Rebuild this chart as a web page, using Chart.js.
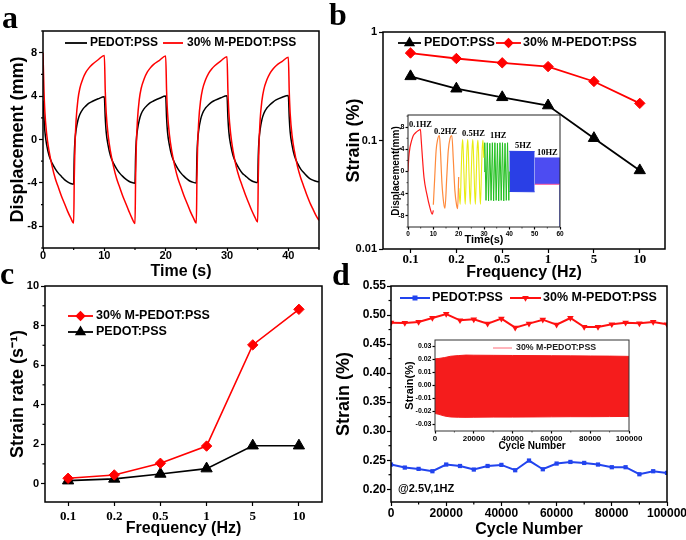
<!DOCTYPE html>
<html><head><meta charset="utf-8">
<script src="https://cdn.jsdelivr.net/npm/chart.js@4/dist/chart.umd.min.js"></script>
<style>
html,body{margin:0;padding:0;background:#fff;}
body{width:686px;height:540px;position:relative;overflow:hidden;}
canvas{position:absolute;}
.lbl{position:absolute;font-family:'Liberation Serif','Times New Roman',serif;font-weight:bold;font-size:32px;line-height:32px;color:#000;}
</style></head><body>
<canvas id="ca"></canvas><canvas id="cb"></canvas><canvas id="cc"></canvas><canvas id="cd"></canvas>
<canvas id="cbi"></canvas><canvas id="cdi"></canvas>
<div class="lbl" style="left:2px;top:1px">a</div>
<div class="lbl" style="left:329px;top:-2px">b</div>
<div class="lbl" style="left:0px;top:257px">c</div>
<div class="lbl" style="left:332px;top:258px">d</div>
<script>
// ---------- Panel a : displacement vs time ----------
const timeA = [
0,0.15,0.3,0.6,1,1.5,2,2.5,3,3.5,4,4.5,
5,5.1,5.2,5.4,5.7,6,6.5,7,7.5,8,9,
10,10.15,10.3,10.6,11,11.5,12,12.5,13,13.5,14,14.5,
15,15.1,15.2,15.4,15.7,16,16.5,17,17.5,18,19,
20,20.15,20.3,20.6,21,21.5,22,22.5,23,23.5,24,24.5,
25,25.1,25.2,25.4,25.7,26,26.5,27,27.5,28,29,
30,30.15,30.3,30.6,31,31.5,32,32.5,33,33.5,34,34.5,
35,35.1,35.2,35.4,35.7,36,36.5,37,37.5,38,39,
40,40.15,40.3,40.6,41,41.5,42,42.5,43,43.5,44,44.5,45];
const dispM = [
8.0,4.7,2.6,0.5,-1.1,-2.5,-3.6,-4.4,-5.2,-5.9,-6.6,-7.2,
-7.7,-3.5,-0.8,1.8,3.7,4.7,5.6,6.2,6.6,6.9,7.35,
7.75,4.5,2.5,0.5,-1.1,-2.5,-3.6,-4.4,-5.2,-5.9,-6.6,-7.25,
-7.75,-3.5,-0.8,1.8,3.7,4.7,5.6,6.2,6.6,6.9,7.3,
7.7,4.5,2.5,0.5,-1.1,-2.5,-3.6,-4.4,-5.2,-5.9,-6.6,-7.2,
-7.7,-3.5,-0.8,1.8,3.6,4.6,5.5,6.1,6.5,6.8,7.25,
7.63,4.5,2.5,0.5,-1.1,-2.5,-3.5,-4.3,-5.1,-5.8,-6.5,-7.1,
-7.6,-3.5,-0.8,1.8,3.6,4.6,5.5,6.1,6.5,6.8,7.2,
7.57,4.4,2.4,0.4,-1.1,-2.5,-3.5,-4.3,-5.1,-5.8,-6.4,-7.0,-7.45];
const dispP = [
3.6,2.2,0.8,-0.5,-1.5,-2.2,-2.7,-3.1,-3.4,-3.7,-3.9,-4.05,
-4.12,-1.5,-0.2,0.9,1.8,2.3,2.8,3.1,3.35,3.5,3.75,
3.94,2.0,0.7,-0.5,-1.5,-2.2,-2.7,-3.1,-3.4,-3.65,-3.85,-3.97,
-4.03,-1.5,-0.2,0.9,1.8,2.35,2.85,3.15,3.4,3.55,3.8,
4.0,2.0,0.7,-0.5,-1.5,-2.2,-2.7,-3.1,-3.4,-3.65,-3.85,-3.95,
-4.0,-1.5,-0.2,0.9,1.85,2.4,2.9,3.2,3.45,3.6,3.85,
4.03,2.0,0.7,-0.5,-1.5,-2.2,-2.7,-3.1,-3.35,-3.6,-3.8,-3.92,
-3.97,-1.5,-0.2,0.9,1.85,2.4,2.9,3.2,3.45,3.65,3.9,
4.06,2.0,0.7,-0.5,-1.5,-2.2,-2.7,-3.05,-3.35,-3.6,-3.75,-3.85,-3.9];
const ticksAx = [0,10,20,30,40], minorAx = [5,15,25,35,45];
const ticksAy = [-8,-4,0,4,8], minorAy = [-10,-6,-2,2,6,10];

// ---------- Panel b : strain vs frequency ----------
const freqLabels = ['0.1','0.2','0.5','1','5','10'];
const freqIdx = [0,1,2,3,4,5];
const strainP = [0.39,0.30,0.25,0.21,0.105,0.053];
const strainM = [0.64,0.57,0.52,0.48,0.35,0.22];
const ticksBy = [0.01,0.1,1], labelsBy = ['0.01','0.1','1'];

// inset of b : displacement at several frequencies
const t01 = [0,0.3,0.8,1.5,2.1,3,4.1,4.9,5.2,5.5,6.3,7.4,8.7,9.6,10];
const d01 = [0,2.5,4.4,5.7,6.5,7.0,7.4,7.6,5.8,3.8,-1.0,-4.0,-6.6,-7.7,-7.0];
const t02 = [10,10.5,11.1,11.7,12.4,12.8,13.4,14.1,14.6,15.3,15.9,16.6,17.3,17.9,18.5,19.2,19.6,20];
const d02 = [-6.0,-1.5,3.8,5.8,6.5,3.8,-2.1,-5.7,-6.6,-1.0,3.8,6.0,6.5,2.0,-3.4,-6.1,-6.7,-1.0];
const t05 = [20.1,20.6,21.0,21.3,21.6,21.9,22.3,22.6,23.0,23.3,23.6,23.9,24.3,24.6,25.0,25.3,25.6,25.9,26.3,26.6,27.0,27.3,27.6,27.9,28.3,28.6,29.0,29.3,29.6,29.9];
const d05 = [-3,-5.9,0,4.2,5.75,2.5,-3.5,-5.9,0,4.2,5.75,2.5,-3.5,-5.9,0,4.2,5.75,2.5,-3.5,-5.9,0,4.2,5.7,2.5,-3.5,-5.9,0,4.2,5.7,2.5];
const t1 = [30,30.3,30.8,31.3,31.8,32.3,32.8,33.3,33.8,34.3,34.8,35.3,35.8,36.3,36.8,37.3,37.8,38.3,38.8,39.3,39.8,40];
const d1 = [0,5.2,-5.2,5.2,-5.3,5.1,-5.2,5.2,-5.3,5.2,-5.2,5.1,-5.3,5.2,-5.2,5.2,-5.3,5.1,-5.2,5.2,-5.2,0];
const t5 = [40,50], top5 = [3.65,3.6], bot5 = [-3.6,-3.65];
const t10 = [50,60], top10 = [2.45,2.45], bot10 = [-2.3,-2.3];
const t10tail = [60,60], d10tail = [-2.3,-10];
const freqNames = ['0.1HZ','0.2HZ','0.5HZ','1HZ','5HZ','10HZ'];

// ---------- Panel c : strain rate ----------
const rateM = [0.27,0.44,1.03,1.9,7.02,8.82];
const rateP = [0.15,0.24,0.49,0.76,1.92,1.92];
const ticksCy = [0,2,4,6,8,10], minorCy = [1,3,5,7,9];

// ---------- Panel d : cycling stability ----------
const cycles = [0,5000,10000,15000,20000,25000,30000,35000,40000,45000,50000,55000,60000,65000,70000,75000,80000,85000,90000,95000,100000];
const cycP = [0.2425,0.2373,0.235,0.231,0.2425,0.240,0.2339,0.240,0.2419,0.2327,0.2494,0.2344,0.2442,0.247,0.2453,0.2425,0.2379,0.2379,0.2258,0.231,0.2281];
const cycM = [0.4869,0.4863,0.488,0.4949,0.5018,0.4909,0.4926,0.4852,0.4938,0.4783,0.4852,0.492,0.4834,0.4949,0.4794,0.4794,0.484,0.4869,0.4857,0.488,0.484];
const ticksDx = [0,20000,40000,60000,80000,100000], minorDx = [10000,30000,50000,70000,90000];
const ticksDy = [0.20,0.25,0.30,0.35,0.40,0.45,0.50,0.55], minorDy = [0.225,0.275,0.325,0.375,0.425,0.475,0.525];
// inset of d : strain envelope vs cycle number
const envCycles = [0,2000,5000,8000,12000,16000,20000,30000,40000,50000,60000,70000,80000,90000,100000];
const envTop = [0.0205,0.0208,0.0215,0.0225,0.0230,0.0234,0.0233,0.0232,0.0231,0.0230,0.0229,0.0228,0.0227,0.0226,0.0224];
const envBot = [-0.0215,-0.0222,-0.0235,-0.0242,-0.0244,-0.0245,-0.0244,-0.0243,-0.0243,-0.0242,-0.0241,-0.0240,-0.0240,-0.0239,-0.0238];
const ticksDiy = [-0.03,-0.02,-0.01,0,0.01,0.02,0.03];

// ---------- helpers ----------
const SANS = "'Liberation Sans', Arial, Helvetica, sans-serif";
const SERIF = "'Liberation Serif', 'Times New Roman', serif";
Chart.defaults.font.family = SANS;
Chart.defaults.font.weight = 'bold';
Chart.defaults.color = '#000';

const xy = (xs, ys) => xs.map((x, i) => ({x: x, y: ys[i]}));

function drawMarker(ctx, type, x, y, r, color) {
  ctx.save(); ctx.fillStyle = color; ctx.beginPath();
  if (type === 'tri') { ctx.moveTo(x, y - r); ctx.lineTo(x + r * 0.866, y + r * 0.5); ctx.lineTo(x - r * 0.866, y + r * 0.5); }
  else if (type === 'triDown') { ctx.moveTo(x, y + r); ctx.lineTo(x + r * 0.866, y - r * 0.5); ctx.lineTo(x - r * 0.866, y - r * 0.5); }
  else if (type === 'diamond') { ctx.moveTo(x, y - r); ctx.lineTo(x + r, y); ctx.lineTo(x, y + r); ctx.lineTo(x - r, y); }
  else if (type === 'square') { ctx.rect(x - r, y - r, 2 * r, 2 * r); }
  ctx.closePath(); ctx.fill(); ctx.restore();
}

function decor(cfg) {
  return {
    id: 'decor',
    beforeDraw(chart) {
      if (!cfg.bg) return;
      const a = chart.chartArea, ctx = chart.ctx;
      ctx.save(); ctx.fillStyle = cfg.bg; ctx.fillRect(a.left, a.top, a.right - a.left, a.bottom - a.top); ctx.restore();
    },
    afterDraw(chart) {
      const a = chart.chartArea, ctx = chart.ctx;
      ctx.save();
      ctx.strokeStyle = cfg.frameColor || '#000'; ctx.lineWidth = cfg.frameW || 1.5;
      ctx.strokeRect(a.left, a.top, a.right - a.left, a.bottom - a.top);
      ctx.lineWidth = cfg.tickW || 1.2; ctx.strokeStyle = cfg.frameColor || '#000';
      const xs = chart.scales.x, ys = chart.scales.y, ml = cfg.minorLen || 2.5;
      (cfg.minorX || []).forEach(v => { const p = xs.getPixelForValue(v); ctx.beginPath(); ctx.moveTo(p, a.bottom); ctx.lineTo(p, a.bottom + ml); ctx.stroke(); });
      (cfg.minorY || []).forEach(v => { const p = ys.getPixelForValue(v); ctx.beginPath(); ctx.moveTo(a.left - ml, p); ctx.lineTo(a.left, p); ctx.stroke(); });
      (cfg.legend || []).forEach(it => {
        ctx.strokeStyle = it.color; ctx.lineWidth = it.lw || 1.5;
        ctx.beginPath(); ctx.moveTo(it.x1, it.y); ctx.lineTo(it.x2, it.y); ctx.stroke();
        if (it.marker) drawMarker(ctx, it.marker, (it.x1 + it.x2) / 2, it.y, it.r, it.color);
        ctx.fillStyle = it.textColor || '#000'; ctx.font = it.font; ctx.textAlign = 'left'; ctx.textBaseline = 'middle';
        ctx.fillText(it.text, it.tx, it.y);
      });
      (cfg.texts || []).forEach(t => {
        ctx.fillStyle = t.color || '#000'; ctx.font = t.font; ctx.textAlign = 'left'; ctx.textBaseline = 'middle';
        ctx.fillText(t.text, t.x, t.y);
      });
      ctx.restore();
    }
  };
}

function axis(o) {
  const s = {
    type: o.type || 'linear', position: o.pos, min: o.min, max: o.max,
    grid: {drawOnChartArea: false, drawTicks: true, tickLength: o.tl, tickWidth: o.tw || 1.2, tickColor: '#000'},
    border: {display: false},
    ticks: {
      autoSkip: false, maxRotation: 0, minRotation: 0, padding: o.pad, color: '#000', font: o.font,
      callback: (v) => { const i = o.ticks.indexOf(v); if (i < 0) return ''; return o.labels ? o.labels[i] : o.fmt(v); }
    },
    title: o.title ? {display: true, text: o.title, font: o.tfont, color: '#000', padding: o.tpad} : {display: false},
    afterBuildTicks: (sc) => { sc.ticks = o.ticks.map(v => ({value: v})); },
    afterFit: (sc) => {
      if (o.pos === 'left') sc.width = o.size; else sc.height = o.size;
      sc.paddingLeft = 0; sc.paddingRight = 0; sc.paddingTop = 0; sc.paddingBottom = 0;
    }
  };
  return s;
}

function makeChart(id, box, area, datasets, xAx, yAx, dec) {
  const c = document.getElementById(id);
  c.width = box.w; c.height = box.h;
  c.style.left = box.l + 'px'; c.style.top = box.t + 'px';
  c.style.width = box.w + 'px'; c.style.height = box.h + 'px';
  xAx.size = box.h - area.bottom; yAx.size = area.left;
  return new Chart(c, {
    type: 'line',
    data: {datasets: datasets},
    options: {
      responsive: false, devicePixelRatio: 1, animation: false, events: [],
      layout: {padding: {left: 0, top: area.top, right: box.w - area.right, bottom: 0}},
      plugins: {legend: {display: false}, tooltip: {enabled: false}},
      scales: {x: axis(xAx), y: axis(yAx)}
    },
    plugins: [decor(dec)]
  });
}

const line = (data, color, w, extra) => Object.assign({data: data, borderColor: color, backgroundColor: color, borderWidth: w, pointRadius: 0, fill: false, tension: 0}, extra || {});

const num = v => String(v);

// ---------- build panel a ----------
makeChart('ca', {l: 0, t: 0, w: 335, h: 285}, {left: 43, top: 31, right: 319, bottom: 248},
  [
    line(xy(timeA, dispM), '#ff0000', 1.5, {cubicInterpolationMode: 'monotone'}),
    line(xy(timeA, dispP), '#000000', 1.5, {cubicInterpolationMode: 'monotone'})
  ],
  {pos: 'bottom', min: 0, max: 45, ticks: ticksAx, fmt: num, font: {size: 11, weight: 'bold'}, tl: 3, pad: -2,
   title: 'Time (s)', tfont: {size: 16, weight: 'bold'}, tpad: {top: 0, bottom: 4}},
  {pos: 'left', min: -10, max: 10, ticks: ticksAy, fmt: num, font: {size: 11, weight: 'bold'}, tl: 4, pad: 2,
   title: 'Displacement (mm)', tfont: {size: 18, weight: 'bold'}, tpad: {top: 7, bottom: 0}},
  {minorX: minorAx, minorY: minorAy, minorLen: 2,
   legend: [
     {x1: 65, x2: 87, y: 43, color: '#000', lw: 1.8, text: 'PEDOT:PSS', tx: 90, font: 'bold 12px ' + SANS},
     {x1: 163, x2: 183, y: 43, color: '#ff0000', lw: 1.8, text: '30% M-PEDOT:PSS', tx: 187, font: 'bold 12px ' + SANS}
   ]});

// ---------- build panel b ----------
makeChart('cb', {l: 335, t: 0, w: 351, h: 285}, {left: 48, top: 32, right: 330, bottom: 249},
  [
    line(xy(freqIdx, strainP), '#000000', 1.8, {pointRadius: 6.5, pointStyle: 'triangle', pointBackgroundColor: '#000', pointBorderColor: '#000', pointBorderWidth: 1}),
    line(xy(freqIdx, strainM), '#ff0000', 1.8, {pointRadius: 5.2, pointStyle: 'rectRot', pointBackgroundColor: '#ff0000', pointBorderColor: '#ff0000', pointBorderWidth: 1})
  ],
  {pos: 'bottom', min: -0.6, max: 5.55, ticks: freqIdx, labels: freqLabels, font: {size: 13, weight: 'bold', family: SERIF}, tl: 4, pad: -1.5,
   title: 'Frequency (Hz)', tfont: {size: 16, weight: 'bold'}, tpad: {top: 0, bottom: 2.5}},
  {pos: 'left', type: 'logarithmic', min: 0.01, max: 1, ticks: ticksBy, labels: labelsBy, font: {size: 11, weight: 'bold'}, tl: 4, pad: 2,
   title: 'Strain (%)', tfont: {size: 18, weight: 'bold'}, tpad: {top: 8, bottom: 0}},
  {legend: [
     {x1: 63, x2: 86, y: 43, color: '#000', lw: 1.8, marker: 'tri', r: 6.5, text: 'PEDOT:PSS', tx: 89, font: 'bold 12.5px ' + SANS},
     {x1: 161, x2: 186, y: 43, color: '#ff0000', lw: 1.8, marker: 'diamond', r: 5.2, text: '30% M-PEDOT:PSS', tx: 188, font: 'bold 12.5px ' + SANS}
   ]});

// ---------- build panel c ----------
makeChart('cc', {l: 0, t: 270, w: 335, h: 270}, {left: 45, top: 16, right: 322, bottom: 232},
  [
    line(xy(freqIdx, rateM), '#ff0000', 1.6, {pointRadius: 5.2, pointStyle: 'rectRot', pointBackgroundColor: '#ff0000', pointBorderColor: '#ff0000', pointBorderWidth: 1}),
    line(xy(freqIdx, rateP), '#000000', 1.6, {pointRadius: 6.5, pointStyle: 'triangle', pointBackgroundColor: '#000', pointBorderColor: '#000', pointBorderWidth: 1})
  ],
  {pos: 'bottom', min: -0.5, max: 5.5, ticks: freqIdx, labels: freqLabels, font: {size: 13, weight: 'bold', family: SERIF}, tl: 4, pad: 2.5,
   title: 'Frequency (Hz)', tfont: {size: 16, weight: 'bold'}, tpad: {top: 0, bottom: 1.5}},
  {pos: 'left', min: -0.93, max: 10, ticks: ticksCy, fmt: num, font: {size: 11, weight: 'bold'}, tl: 4, pad: 2,
   title: 'Strain rate (s\u207B\u00B9)', tfont: {size: 18, weight: 'bold'}, tpad: {top: 7, bottom: 0}},
  {minorY: minorCy,
   legend: [
     {x1: 68, x2: 93, y: 46, color: '#ff0000', lw: 1.8, marker: 'diamond', r: 5.2, text: '30% M-PEDOT:PSS', tx: 96, font: 'bold 12.5px ' + SANS},
     {x1: 68, x2: 93, y: 62, color: '#000', lw: 1.8, marker: 'tri', r: 6.5, text: 'PEDOT:PSS', tx: 96, font: 'bold 12.5px ' + SANS}
   ]});

// ---------- build panel d ----------
makeChart('cd', {l: 330, t: 270, w: 356, h: 270}, {left: 61, top: 16, right: 337, bottom: 232},
  [
    line(xy(cycles, cycP), '#2244ee', 2, {pointRadius: 3, pointStyle: 'rect', pointBackgroundColor: '#2244ee', pointBorderColor: '#2244ee', pointBorderWidth: 0}),
    line(xy(cycles, cycM), '#ff1010', 2, {pointRadius: 3.8, pointStyle: 'triangle', pointRotation: 180, pointBackgroundColor: '#ff1010', pointBorderColor: '#ff1010', pointBorderWidth: 0})
  ],
  {pos: 'bottom', min: 0, max: 100000, ticks: ticksDx, fmt: num, font: {size: 12, weight: 'bold'}, tl: 4, pad: 0,
   title: 'Cycle Number', tfont: {size: 16, weight: 'bold'}, tpad: {top: 0, bottom: 1}},
  {pos: 'left', min: 0.178, max: 0.55, ticks: ticksDy, fmt: v => v.toFixed(2), font: {size: 12, weight: 'bold'}, tl: 4, pad: 1,
   title: 'Strain (%)', tfont: {size: 18, weight: 'bold'}, tpad: {top: 3, bottom: 0}},
  {minorX: minorDx, minorY: minorDy,
   legend: [
     {x1: 70, x2: 100, y: 28, color: '#2244ee', lw: 2, marker: 'square', r: 2.5, text: 'PEDOT:PSS', tx: 102, font: 'bold 12.5px ' + SANS},
     {x1: 180, x2: 211, y: 28, color: '#ff1010', lw: 2, marker: 'triDown', r: 3.8, text: '30% M-PEDOT:PSS', tx: 213, font: 'bold 12.5px ' + SANS}
   ],
   texts: [{text: '@2.5V,1HZ', x: 68, y: 219, font: 'bold 11px ' + SANS}]});

// ---------- inset of b ----------
makeChart('cbi', {l: 385, t: 110, w: 180, h: 137}, {left: 23, top: 5, right: 175, bottom: 117},
  [
    line(xy(t01, d01), '#ff1a1a', 1.2, {cubicInterpolationMode: 'monotone'}),
    line(xy(t02, d02), '#ff8a3c', 1.2, {cubicInterpolationMode: 'monotone'}),
    line(xy(t05, d05), '#e8ec10', 1.1, {cubicInterpolationMode: 'monotone'}),
    line(xy(t1, d1), '#22c020', 1.0),
    line(xy(t5, top5), '#2a3fe6', 1),
    line(xy(t5, bot5), '#2a3fe6', 1, {fill: '-1', backgroundColor: '#2a3fe6'}),
    line(xy(t10, top10), '#4d4cf2', 1),
    line(xy(t10, bot10), '#ff5a9a', 1, {fill: '-1', backgroundColor: '#4d4cf2'}),
    line(xy(t10tail, d10tail), '#3340e8', 1.2)
  ],
  {pos: 'bottom', min: 0, max: 60, ticks: [0,10,20,30,40,50,60], fmt: num, font: {size: 6.5, weight: 'bold'}, tl: 2.5, pad: 0.5,
   title: 'Time(s)', tfont: {size: 11, weight: 'bold'}, tpad: {top: 0, bottom: 0}},
  {pos: 'left', min: -10, max: 10.2, ticks: [-8,-4,0,4,8], fmt: num, font: {size: 7, weight: 'bold'}, tl: 2.5, pad: 1,
   title: 'Displacement(mm)', tfont: {size: 10, weight: 'bold'}, tpad: {top: 5, bottom: 0}},
  {bg: '#ffffff', frameW: 1, frameColor: '#222', tickW: 0.8, minorLen: 1.5,
   minorX: [5,15,25,35,45,55], minorY: [-10,-6,-2,2,6,10],
   texts: [
     {text: freqNames[0], x: 24, y: 15, font: 'bold 8.5px ' + SERIF},
     {text: freqNames[1], x: 49, y: 21.5, font: 'bold 8.5px ' + SERIF},
     {text: freqNames[2], x: 77, y: 24, font: 'bold 8.5px ' + SERIF},
     {text: freqNames[3], x: 105, y: 26, font: 'bold 8.5px ' + SERIF},
     {text: freqNames[4], x: 130, y: 36, font: 'bold 8.5px ' + SERIF},
     {text: freqNames[5], x: 152, y: 43, font: 'bold 8.5px ' + SERIF}
   ]});

// ---------- inset of d ----------
makeChart('cdi', {l: 400, t: 335, w: 252, h: 120}, {left: 35, top: 5, right: 229, bottom: 96},
  [
    line(xy(envCycles, envTop), '#f51c1c', 1),
    line(xy(envCycles, envBot), '#f51c1c', 1, {fill: '-1', backgroundColor: '#f51c1c'})
  ],
  {pos: 'bottom', min: 0, max: 100000, ticks: ticksDx, fmt: num, font: {size: 8, weight: 'bold'}, tl: 2.5, pad: 0.5,
   title: 'Cycle Number', tfont: {size: 10, weight: 'bold'}, tpad: {top: 0, bottom: 2.5}},
  {pos: 'left', min: -0.035, max: 0.035, ticks: ticksDiy, fmt: v => v.toFixed(2), font: {size: 7, weight: 'bold'}, tl: 2.5, pad: 1,
   title: 'Strain(%)', tfont: {size: 11, weight: 'bold'}, tpad: {top: 3.4, bottom: 0}},
  {bg: '#ffffff', frameW: 1, frameColor: '#333', tickW: 0.8, minorLen: 1.5,
   minorX: minorDx,
   legend: [{x1: 93, x2: 112, y: 13, color: '#ff6a78', lw: 1, text: '30% M-PEDOT:PSS', tx: 116, font: 'bold 8.8px ' + SANS, textColor: '#222'}]});
</script>
</body></html>
